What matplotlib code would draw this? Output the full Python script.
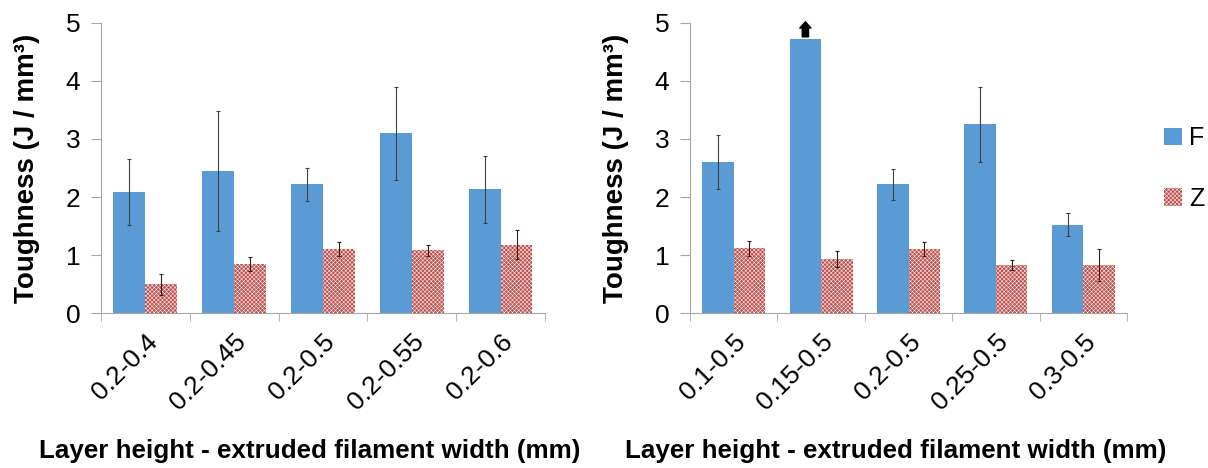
import numpy as np
import matplotlib
matplotlib.use('Agg')
import matplotlib.pyplot as plt
from matplotlib.patches import Patch

plt.rcParams['font.family'] = ['Liberation Sans', 'DejaVu Sans']
plt.rcParams['hatch.linewidth'] = 0.35

# layer height - extruded width, first set (fixed height 0.2)
width_labels = ['0.2-0.4', '0.2-0.45', '0.2-0.5', '0.2-0.55', '0.2-0.6']
width_F = [2.08, 2.45, 2.22, 3.10, 2.13]
width_F_err = [0.57, 1.03, 0.28, 0.80, 0.58]
width_Z = [0.50, 0.85, 1.10, 1.08, 1.18]
width_Z_err = [0.18, 0.12, 0.12, 0.10, 0.25]

# second set (fixed width 0.5)
height_labels = ['0.1-0.5', '0.15-0.5', '0.2-0.5', '0.25-0.5', '0.3-0.5']
height_F = [2.60, 4.72, 2.22, 3.25, 1.52]
height_F_err = [0.47, 0.0, 0.27, 0.65, 0.20]
height_Z = [1.12, 0.93, 1.10, 0.83, 0.83]
height_Z_err = [0.13, 0.14, 0.12, 0.08, 0.28]

blue = '#5b9bd5'
red = '#c0504d'
axis_grey = '#a6a6a6'
W = 0.36
HATCH = 'xxxxxxxx'


def draw(ax, labels, f, f_err, z, z_err):
    x = np.arange(len(labels))
    ax.bar(x - W / 2, f, W, color=blue, edgecolor='none', zorder=2)
    ax.bar(x + W / 2, z, W, color=red, edgecolor='white', linewidth=0,
           hatch=HATCH, zorder=2)
    fe = np.array(f_err)
    mask = fe > 0
    ax.errorbar((x - W / 2)[mask], np.array(f)[mask], yerr=fe[mask], fmt='none',
                ecolor='#404040', elinewidth=0.8, capsize=1.5, capthick=0.8,
                zorder=3)
    ax.errorbar(x + W / 2, z, yerr=z_err, fmt='none', ecolor='#3a1a1a',
                elinewidth=0.8, capsize=1.5, capthick=0.8, zorder=3)

    ax.set_xlim(-0.5, len(labels) - 0.5)
    ax.set_ylim(0, 5)
    ax.set_yticks(range(6))
    ax.set_xticks(x)
    ax.set_xticklabels(labels, rotation=45, ha='right', rotation_mode='anchor',
                       fontsize=19)
    ax.set_xticks(np.arange(-0.5, len(labels)), minor=True)
    ax.tick_params(axis='x', which='major', length=0, pad=12)
    ax.tick_params(axis='x', which='minor', length=6, color=axis_grey)
    ax.tick_params(axis='y', length=7, color=axis_grey, labelsize=19, pad=8)
    for s in ['top', 'right']:
        ax.spines[s].set_visible(False)
    for s in ['left', 'bottom']:
        ax.spines[s].set_color(axis_grey)
        ax.spines[s].set_linewidth(0.8)
    ax.set_ylabel('Toughness (J / mm³)', fontsize=20, fontweight='bold',
                  labelpad=18)
    ax.set_xlabel('Layer height - extruded filament width (mm)', fontsize=18.7,
                  fontweight='bold', labelpad=17)
    ax.xaxis.label.set_x(0.47)


fig = plt.figure(figsize=(12.08, 4.68), dpi=100)
ax1 = fig.add_axes([0.0836, 0.331, 0.3675, 0.620])
ax2 = fig.add_axes([0.5712, 0.331, 0.3618, 0.620])

draw(ax1, width_labels, width_F, width_F_err, width_Z, width_Z_err)
draw(ax2, height_labels, height_F, height_F_err, height_Z, height_Z_err)

# value of 0.15-0.5 goes off the scale
ax2.annotate('', xy=(1 - W / 2, 5.02), xytext=(1 - W / 2, 4.76),
             arrowprops=dict(arrowstyle='simple,head_width=0.8,head_length=0.45,tail_width=0.45',
                             color='black', shrinkA=0, shrinkB=0),
             annotation_clip=False)

handles = [Patch(facecolor=blue, edgecolor='none', label='F'),
           Patch(facecolor=red, edgecolor='white', linewidth=0, hatch=HATCH,
                 label='Z')]
fig.legend(handles=handles, loc='center left', bbox_to_anchor=(0.945, 0.64),
           frameon=False, fontsize=18, handlelength=0.7, handleheight=0.7,
           handletextpad=0.3, labelspacing=1.45)

fig.savefig('out.png', dpi=100)
